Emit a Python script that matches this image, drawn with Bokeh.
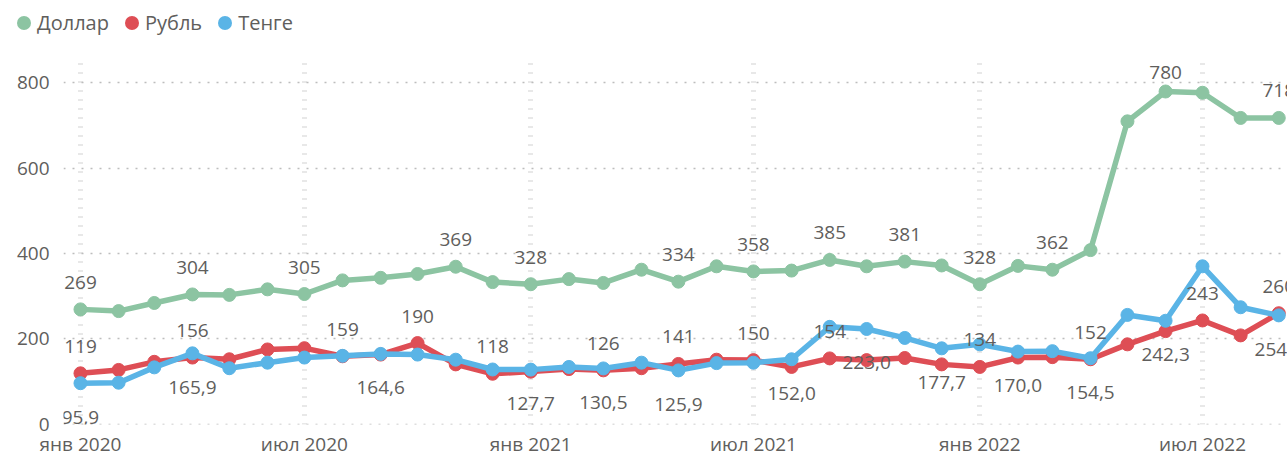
import pandas as pd
from bokeh.plotting import figure
from bokeh.layouts import column
from bokeh.models import (ColumnDataSource, Range1d, FixedTicker, CustomJSTickFormatter,
                          LabelSet, Div)
from bokeh.core.properties import value
from bokeh.embed import file_html
from bokeh.resources import INLINE

# ---------------- data ----------------
months = pd.date_range("2020-01-01", "2022-09-01", freq="MS")

dollar = [269, 265, 284, 304, 303, 316, 305, 337, 343, 352, 369, 333, 328, 340, 331,
          362, 334, 370, 358, 360, 385, 370, 381, 372, 328, 371, 362, 408, 710, 780,
          777, 718, 718]
ruble = [119, 127, 146, 156, 152, 175, 178, 159, 163, 190, 140, 118, 123, 129, 126,
         131, 141, 151, 150, 134, 154, 150, 155, 140, 134, 156, 157, 152, 187, 218,
         243, 208, 260]
tenge = [95.9, 97, 133, 165.9, 131, 144, 156, 160, 164.6, 163, 151, 128, 127.7, 134, 130.5,
         144, 125.9, 143, 144, 152.0, 228, 223.0, 202, 177.7, 187, 170.0, 171, 154.5, 256, 242.3,
         370, 274, 254.9]

series_names = ["Доллар", "Рубль", "Тенге"]

dollar_labeled = [0, 3, 6, 10, 12, 16, 18, 20, 22, 24, 26, 29, 32]
ruble_labeled = [0, 3, 7, 9, 11, 14, 16, 18, 20, 24, 27, 30, 32]
tenge_labeled = [0, 3, 8, 12, 14, 16, 19, 21, 23, 25, 27, 29, 32]

x_tick_dates = ["2020-01-01", "2020-07-01", "2021-01-01", "2021-07-01", "2022-01-01", "2022-07-01"]
y_ticks = [0, 200, 400, 600, 800]
month_names = ["янв", "фев", "мар", "апр", "май", "июн", "июл", "авг", "сен", "окт", "ноя", "дек"]

# ---------------- style ----------------
GREEN = "#8CC4A2"
RED = "#DE4E55"
BLUE = "#5AB4E6"
COLORS = [GREEN, RED, BLUE]
TEXT = "#605E5C"
FONT = "Open Sans"
FS = "19px"

W = 1287
LEG_H = 50
H = 459 - LEG_H
B_LEFT, B_TOP, B_BOTTOM = 63, 12, 32
Y0, Y1 = -1, 848
FRAME_H = H - B_TOP - B_BOTTOM
PX_PER_UNIT = FRAME_H / (Y1 - Y0)

def ms(ts):
    return pd.Timestamp(ts).value / 1e6

DAY = 86400000.0

# ---------------- legend strip (HTML text) ----------------
items_html = "".join(
    f'<span style="display:inline-block;width:14px;height:14px;border-radius:7px;'
    f'background:{c};margin-right:6px;"></span>'
    f'<span style="margin-right:16px;">{n}</span>'
    for n, c in zip(series_names, COLORS)
)
legend_div = Div(
    text=f'<div style="display:flex;align-items:center;height:46px;padding-left:17px;'
         f'font-family:\'{FONT}\';font-size:20px;color:{TEXT};white-space:nowrap;">'
         f'{items_html}</div>',
    width=W, height=LEG_H, margin=0,
)

# ---------------- main chart ----------------
p = figure(width=W, height=H, output_backend="svg", toolbar_location=None,
           x_axis_type="datetime",
           x_range=Range1d(ms("2020-01-01") - 13.8 * DAY, ms("2022-07-01") + 69.1 * DAY),
           y_range=Range1d(Y0, Y1),
           min_border_left=B_LEFT, min_border_right=0, min_border_top=B_TOP,
           min_border_bottom=B_BOTTOM, margin=0)
p.outline_line_color = None
p.background_fill_color = "white"
p.border_fill_color = "white"

xt = FixedTicker(ticks=[ms(d) for d in x_tick_dates])
yt = FixedTicker(ticks=y_ticks)
p.xaxis.ticker = xt
p.yaxis.ticker = yt
p.xgrid.ticker = xt
p.ygrid.ticker = yt
p.xaxis.formatter = CustomJSTickFormatter(args=dict(names=month_names), code="""
    const d = new Date(tick);
    return names[d.getUTCMonth()] + " " + d.getUTCFullYear();
""")

for ax in (p.xaxis[0], p.yaxis[0]):
    ax.axis_line_color = None
    ax.major_tick_line_color = None
    ax.minor_tick_line_color = None
    ax.major_tick_out = 0
    ax.major_tick_in = 0
    ax.major_label_text_font = FONT
    ax.major_label_text_font_size = FS
    ax.major_label_text_color = TEXT
p.xaxis.major_label_standoff = 6
p.yaxis.major_label_standoff = 14

p.xgrid.grid_line_color = "#D2D2D2"
p.xgrid.grid_line_width = 5
p.xgrid.grid_line_dash = "1 8"
p.ygrid.grid_line_color = "#BDBDBD"
p.ygrid.grid_line_width = 1.5
p.ygrid.grid_line_dash = "2 7"

src = ColumnDataSource(dict(x=months, dollar=dollar, ruble=ruble, tenge=tenge))

for col, color in zip(("dollar", "ruble", "tenge"), COLORS):
    p.line("x", col, source=src, line_width=5.5, line_color=color)
    p.scatter("x", col, source=src, size=13, fill_color=color, line_color=color, line_width=1)

int_fmt = lambda v: f"{v:.0f}"
dec_fmt = lambda v: f"{v:.1f}".replace(".", ",")

def label_source(vals, idx, fmt, off):
    # labels stay inside the plot area (as in the original): clamp offset near the top
    offs = [min(off, (Y1 - vals[i]) * PX_PER_UNIT - 10) if off > 0 else off for i in idx]
    return ColumnDataSource(dict(
        x=[months[i] for i in idx],
        y=[vals[i] for i in idx],
        t=[fmt(vals[i]) for i in idx],
        off=offs,
    ))

for vals, idx, fmt, off in ((dollar, dollar_labeled, int_fmt, 27),
                            (ruble, ruble_labeled, int_fmt, 27),
                            (tenge, tenge_labeled, dec_fmt, -34)):
    ls = LabelSet(x="x", y="y", text="t", source=label_source(vals, idx, fmt, off),
                  y_offset="off", text_align="center", text_baseline="middle",
                  text_font=value(FONT), text_font_size=FS, text_color=TEXT)
    p.add_layout(ls)

layout = column(legend_div, p, spacing=0)
open("out.html", "w").write(file_html(layout, INLINE))
